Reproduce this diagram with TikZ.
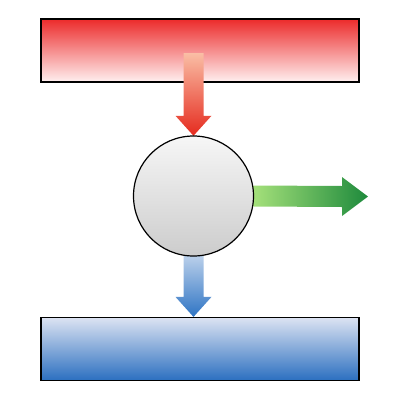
\documentclass[tikz,border=0pt]{standalone}
\usepackage{tikz}
\usetikzlibrary{calc}

\definecolor{hotred}{HTML}{EC2B2B}
\definecolor{hotpale}{HTML}{FFF0F0}
\definecolor{coldblue}{HTML}{2B6FC0}
\definecolor{coldpale}{HTML}{DCE3F2}

% fat arrows between two points
\newcommand{\downfat}[3]{%
\shade[#3] ($(#1)+(-10,0)$) -- ($(#2)+(-10,-20)$) -- ($(#2)+(-18,-20)$) -- (#2)
  -- ($(#2)+(18,-20)$) -- ($(#2)+(10,-20)$) -- ($(#1)+(10,0)$) -- cycle;}
\newcommand{\rightfat}[3]{%
\shade[#3] ($(#1)+(0,-10.5)$) -- ($(#2)+(-26,-10.5)$) -- ($(#2)+(-26,-19.5)$) -- (#2)
  -- ($(#2)+(-26,19.5)$) -- ($(#2)+(-26,10.5)$) -- ($(#1)+(0,10.5)$) -- cycle;}

\begin{document}
\begin{tikzpicture}[x=1pt,y=-1pt,
  box/.style={draw, line width=1.2pt, inner sep=0pt, minimum width=318pt, minimum height=63pt},
  ball/.style={circle, inner sep=0pt, minimum size=120pt}]
\useasboundingbox (0,0) rectangle (400,400);
\node[box, top color=hotred, bottom color=hotpale] (source) at (200,50.5) {};
\node[box, top color=coldpale, bottom color=coldblue] (sink) at (200,349) {};
\coordinate (feed) at (193.5,53);
\coordinate (loss) at (368,196.5);
\coordinate (mid) at (193.5,196);
\node[ball] (core) at (mid) {};
% flows
\downfat{feed}{core.north}{top color={rgb,255:red,250;green,190;blue,165}, middle color={rgb,255:red,245;green,98;blue,30}, bottom color={rgb,255:red,229;green,42;blue,30}}
\downfat{core.south}{core.south |- sink.north}{top color={rgb,255:red,185;green,207;blue,234}, bottom color={rgb,255:red,46;green,116;blue,196}}
\rightfat{core.east}{loss}{left color={rgb,255:red,164;green,224;blue,122}, right color={rgb,255:red,30;green,138;blue,60}}
\node[ball, draw, line width=1.2pt,
  top color={rgb,255:red,246;green,246;blue,246}, bottom color={rgb,255:red,204;green,204;blue,204}] (disc) at (mid) {};
\end{tikzpicture}
\end{document}
